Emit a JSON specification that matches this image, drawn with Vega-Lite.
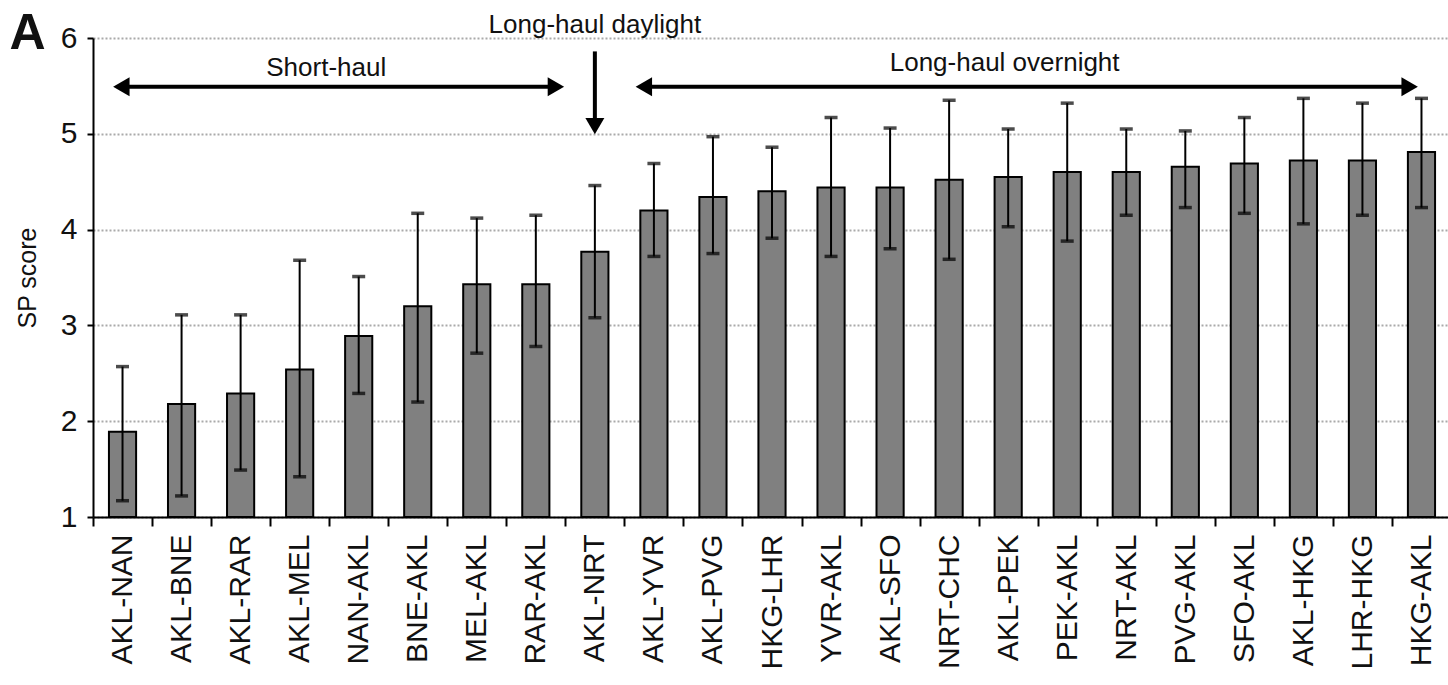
{
  "$schema": "https://vega.github.io/schema/vega-lite/v6.json",
  "autosize": {"type": "none"},
  "padding": {"left": 93, "top": 38, "right": 0, "bottom": 168},
  "width": 1358,
  "height": 479,
  "background": "white",
  "config": {
    "view": {"stroke": null},
    "font": "Liberation Sans",
    "axisX": {
      "labelAngle": -90, "labelFontSize": 30, "labelColor": "#111", "labelFont": "Liberation Sans",
      "tickSize": 9, "tickColor": "black", "tickWidth": 2, "tickBand": "extent",
      "domainColor": "black", "domainWidth": 2, "labelPadding": 8, "grid": false, "title": null
    },
    "axisY": {
      "domainColor": "black", "domainWidth": 2,
      "tickSize": 6, "tickWidth": 2, "tickColor": "black",
      "labelFontSize": 30, "labelColor": "#111", "labelPadding": 10, "labelFont": "Liberation Sans",
      "grid": true, "gridColor": "#aaaaaa", "gridDash": [2, 2], "gridWidth": 2,
      "titleFontSize": 25, "titleFontWeight": "normal", "titleColor": "#111", "titlePadding": 20, "titleFont": "Liberation Sans"
    }
  },
  "datasets": {
    "routes": [
      {"route": "AKL-NAN", "sp": 1.89, "lo": 1.17, "hi": 2.57},
      {"route": "AKL-BNE", "sp": 2.18, "lo": 1.22, "hi": 3.11},
      {"route": "AKL-RAR", "sp": 2.29, "lo": 1.49, "hi": 3.11},
      {"route": "AKL-MEL", "sp": 2.54, "lo": 1.42, "hi": 3.68},
      {"route": "NAN-AKL", "sp": 2.89, "lo": 2.29, "hi": 3.51},
      {"route": "BNE-AKL", "sp": 3.2, "lo": 2.2, "hi": 4.17},
      {"route": "MEL-AKL", "sp": 3.43, "lo": 2.71, "hi": 4.12},
      {"route": "RAR-AKL", "sp": 3.43, "lo": 2.78, "hi": 4.15},
      {"route": "AKL-NRT", "sp": 3.77, "lo": 3.08, "hi": 4.46},
      {"route": "AKL-YVR", "sp": 4.2, "lo": 3.72, "hi": 4.69},
      {"route": "AKL-PVG", "sp": 4.34, "lo": 3.75, "hi": 4.97},
      {"route": "HKG-LHR", "sp": 4.4, "lo": 3.91, "hi": 4.86},
      {"route": "YVR-AKL", "sp": 4.44, "lo": 3.72, "hi": 5.17},
      {"route": "AKL-SFO", "sp": 4.44, "lo": 3.8, "hi": 5.06},
      {"route": "NRT-CHC", "sp": 4.52, "lo": 3.69, "hi": 5.35},
      {"route": "AKL-PEK", "sp": 4.55, "lo": 4.03, "hi": 5.05},
      {"route": "PEK-AKL", "sp": 4.6, "lo": 3.88, "hi": 5.32},
      {"route": "NRT-AKL", "sp": 4.6, "lo": 4.15, "hi": 5.05},
      {"route": "PVG-AKL", "sp": 4.655, "lo": 4.23, "hi": 5.03},
      {"route": "SFO-AKL", "sp": 4.69, "lo": 4.17, "hi": 5.17},
      {"route": "AKL-HKG", "sp": 4.72, "lo": 4.06, "hi": 5.37},
      {"route": "LHR-HKG", "sp": 4.72, "lo": 4.15, "hi": 5.32},
      {"route": "HKG-AKL", "sp": 4.81, "lo": 4.23, "hi": 5.37}
    ],
    "shafts": [
      {"x": 0.5, "x2": 7.85, "y": 5.49, "y2": 5.49},
      {"x": 9.3, "x2": 22.3, "y": 5.49, "y2": 5.49},
      {"x": 8.5, "x2": 8.5, "y": 5.86, "y2": 5.1}
    ],
    "heads": [
      {"x": 0.48, "y": 5.49, "dir": "left"},
      {"x": 7.84, "y": 5.49, "dir": "right"},
      {"x": 9.33, "y": 5.49, "dir": "left"},
      {"x": 22.3, "y": 5.49, "dir": "right"},
      {"x": 8.5, "y": 5.08, "dir": "down"}
    ],
    "labels": [
      {"x": 3.95, "y": 5.6, "text": "Short-haul"},
      {"x": 8.5, "y": 6.055, "text": "Long-haul daylight"},
      {"x": 15.44, "y": 5.66, "text": "Long-haul overnight"}
    ],
    "panel": [{"x": -1.11, "y": 5.88, "text": "A"}]
  },
  "layer": [
    {
      "data": {"name": "routes"},
      "encoding": {
        "x": {"field": "route", "type": "nominal", "sort": null,
              "scale": {"type": "band", "paddingInner": 0, "paddingOuter": 0}}
      },
      "layer": [
        {
          "mark": {"type": "bar", "width": {"band": 0.46}, "fill": "#808080", "stroke": "black", "strokeWidth": 2},
          "encoding": {
            "y": {"field": "sp", "type": "quantitative", "title": "SP score",
                  "scale": {"domain": [1, 6], "nice": false, "zero": false},
                  "axis": {"values": [1, 2, 3, 4, 5, 6], "format": "d"}},
            "y2": {"datum": 1}
          }
        },
        {
          "mark": {"type": "rule", "color": "black", "strokeWidth": 2},
          "encoding": {
            "y": {"field": "lo", "type": "quantitative", "title": "SP score"},
            "y2": {"field": "hi"}
          }
        },
        {
          "mark": {"type": "tick", "color": "black", "size": 13, "thickness": 3.5},
          "encoding": {"y": {"field": "lo", "type": "quantitative", "title": "SP score"}}
        },
        {
          "mark": {"type": "tick", "color": "black", "size": 13, "thickness": 3.5},
          "encoding": {"y": {"field": "hi", "type": "quantitative", "title": "SP score"}}
        }
      ]
    },
    {
      "data": {"name": "shafts"},
      "mark": {"type": "rule", "color": "black", "strokeWidth": 4},
      "encoding": {
        "x": {"field": "x", "type": "quantitative", "scale": {"domain": [0, 23], "nice": false, "zero": false}, "axis": null},
        "x2": {"field": "x2"},
        "y": {"field": "y", "type": "quantitative", "title": "SP score"},
        "y2": {"field": "y2"}
      }
    },
    {
      "data": {"name": "heads"},
      "mark": {"type": "point", "filled": true, "color": "black", "opacity": 1, "size": 360},
      "encoding": {
        "x": {"field": "x", "type": "quantitative", "scale": {"domain": [0, 23], "nice": false, "zero": false}, "axis": null},
        "y": {"field": "y", "type": "quantitative", "title": "SP score"},
        "shape": {"field": "dir", "type": "nominal", "legend": null,
                  "scale": {"domain": ["left", "right", "down"], "range": ["triangle-left", "triangle-right", "triangle-down"]}}
      }
    },
    {
      "data": {"name": "labels"},
      "mark": {"type": "text", "fontSize": 26, "font": "Liberation Sans", "color": "#111", "align": "center", "baseline": "alphabetic"},
      "encoding": {
        "x": {"field": "x", "type": "quantitative", "scale": {"domain": [0, 23], "nice": false, "zero": false}, "axis": null},
        "y": {"field": "y", "type": "quantitative", "title": "SP score"},
        "text": {"field": "text"}
      }
    },
    {
      "data": {"name": "panel"},
      "mark": {"type": "text", "fontSize": 50, "fontWeight": "bold", "font": "Liberation Sans", "color": "#111", "align": "center", "baseline": "alphabetic"},
      "encoding": {
        "x": {"field": "x", "type": "quantitative", "scale": {"domain": [0, 23], "nice": false, "zero": false}, "axis": null},
        "y": {"field": "y", "type": "quantitative", "title": "SP score"},
        "text": {"field": "text"}
      }
    }
  ],
  "resolve": {"scale": {"x": "independent"}}
}
